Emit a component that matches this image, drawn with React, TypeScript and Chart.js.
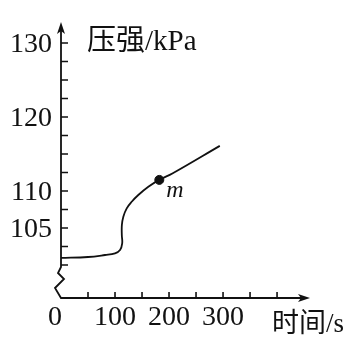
import React, { useEffect, useRef } from "react";
import { Chart, registerables } from "chart.js";

Chart.register(...registerables);

const timeS = [0, 50, 81.5, 100, 109.3, 113.3, 112.6, 112.7, 115.4, 121.7, 130.9, 143.1, 161.7, 182, 207, 294];
const pressureKPa = [100.95, 101.08, 101.35, 101.58, 102.03, 102.93, 104.05, 105.4, 106.53, 107.66, 108.55, 109.46, 110.58, 111.5, 112.4, 116.1];
const pointM = { x: 182, y: 111.5, label: "m" };

const xTickValues = [50, 100, 150, 200, 250, 300, 350, 400];
const xLabelValues = [0, 100, 200, 300];
const yTickValues = [100, 102.5, 105, 107.5, 110, 112.5, 115, 117.5, 120, 122.5, 125, 127.5, 130];
const yLabelValues = [105, 110, 120, 130];
const yTitle = "压强/kPa";
const xTitle = "时间/s";

const NUM_FONT = '28px "Liberation Serif", "DejaVu Serif", serif';
const TITLE_FONT = (s: number) => `${s}px "Liberation Serif", "Noto Sans CJK SC", serif`;

const axesPlugin = {
  id: "textbookAxes",
  afterDraw(chart: any) {
    const { ctx, chartArea, scales } = chart;
    const xs = scales.x;
    const ys = scales.y;
    const x0 = chartArea.left;
    const yb = chartArea.bottom;
    const top = chartArea.top;
    const right = chartArea.right;
    ctx.save();
    ctx.strokeStyle = "#111";
    ctx.fillStyle = "#111";
    ctx.lineWidth = 1.8;
    ctx.lineJoin = "miter";

    // y axis with break
    const y100 = ys.getPixelForValue(100);
    ctx.beginPath();
    ctx.moveTo(x0, top + 8);
    ctx.lineTo(x0, y100 + 2);
    ctx.lineTo(x0 - 3, y100 + 8);
    ctx.lineTo(x0 + 3, y100 + 14);
    ctx.lineTo(x0 - 6, y100 + 23);
    ctx.lineTo(x0, yb);
    ctx.lineTo(right - 8, yb);
    ctx.stroke();

    // arrows
    ctx.beginPath();
    ctx.moveTo(x0, top);
    ctx.lineTo(x0 - 4, top + 12);
    ctx.lineTo(x0, top + 9);
    ctx.lineTo(x0 + 4, top + 12);
    ctx.closePath();
    ctx.fill();
    ctx.beginPath();
    ctx.moveTo(right, yb);
    ctx.lineTo(right - 12, yb - 4);
    ctx.lineTo(right - 9, yb);
    ctx.lineTo(right - 12, yb + 4);
    ctx.closePath();
    ctx.fill();

    // ticks
    ctx.lineWidth = 1.6;
    ctx.beginPath();
    yTickValues.forEach((v) => {
      const p = ys.getPixelForValue(v);
      ctx.moveTo(x0, p);
      ctx.lineTo(x0 + 7, p);
    });
    xTickValues.forEach((v) => {
      const p = xs.getPixelForValue(v);
      ctx.moveTo(p, yb);
      ctx.lineTo(p, yb - 6);
    });
    ctx.stroke();

    // numeric labels
    ctx.font = NUM_FONT;
    ctx.textAlign = "right";
    ctx.textBaseline = "middle";
    yLabelValues.forEach((v) => {
      ctx.fillText(String(v), x0 - 9, ys.getPixelForValue(v) + 2);
    });
    ctx.textAlign = "center";
    xLabelValues.forEach((v) => {
      const p = xs.getPixelForValue(v) - (v === 0 ? 6 : 0);
      ctx.fillText(String(v), p, yb + 20);
    });

    // titles
    ctx.textAlign = "left";
    ctx.textBaseline = "alphabetic";
    ctx.font = TITLE_FONT(29);
    ctx.fillText(yTitle, x0 + 26, top + 28);
    ctx.font = TITLE_FONT(27);
    ctx.fillText(xTitle, right - 38, yb + 34);

    // point label
    ctx.font = 'italic 24px "Liberation Serif", serif';
    ctx.fillText(pointM.label, xs.getPixelForValue(pointM.x) + 7, ys.getPixelForValue(pointM.y) + 17);
    ctx.restore();
  },
};

export default function App() {
  const ref = useRef<HTMLCanvasElement | null>(null);
  useEffect(() => {
    document.body.style.margin = "0";
    const chart = new Chart(ref.current as HTMLCanvasElement, {
      type: "line",
      data: {
        datasets: [
          {
            data: timeS.map((t, i) => ({ x: t, y: pressureKPa[i] })),
            borderColor: "#111",
            borderWidth: 1.8,
            pointRadius: 0,
            tension: 0.4,
            fill: false,
          },
          {
            data: [{ x: pointM.x, y: pointM.y }],
            showLine: false,
            pointRadius: 4.5,
            pointBackgroundColor: "#111",
            pointBorderColor: "#111",
          },
        ],
      },
      options: {
        animation: false,
        responsive: true,
        maintainAspectRatio: false,
        layout: { padding: { left: 61, top: 22, right: 51, bottom: 50 } },
        plugins: { legend: { display: false }, tooltip: { enabled: false } },
        scales: {
          x: { type: "linear", min: 0, max: 461, display: false },
          y: { type: "linear", min: 95.54, max: 132.84, display: false },
        },
      },
      plugins: [axesPlugin],
    });
    return () => chart.destroy();
  }, []);
  return (
    <div style={{ width: 361, height: 348, position: "relative", background: "#fff" }}>
      <canvas ref={ref} />
    </div>
  );
}
